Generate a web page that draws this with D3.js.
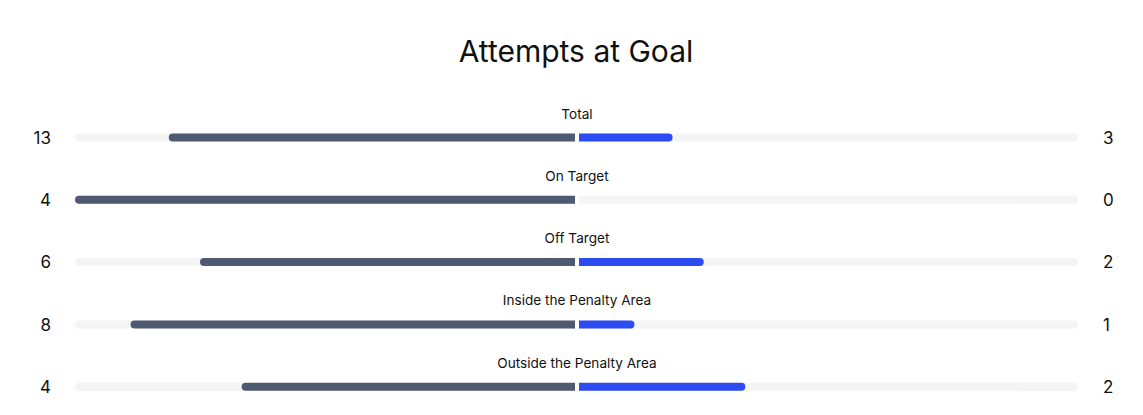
<!DOCTYPE html>
<html>
<head>
<meta charset="utf-8">
<script src="https://cdn.jsdelivr.net/npm/d3@7"></script>
<style>
  html, body { margin: 0; padding: 0; background: #fff; }
  svg { display: block; font-family: Inter, "Noto Sans", sans-serif; }
</style>
</head>
<body>
<svg id="chart"></svg>
<script>
// data
const categories = ["Total", "On Target", "Off Target", "Inside the Penalty Area", "Outside the Penalty Area"];
const homeValues = [13, 4, 6, 8, 4];
const awayValues = [3, 0, 2, 1, 2];

const width = 1143, height = 415;
const trackLeft = 75, trackRight = 1078, center = 577, gap = 2;
const barH = 8;
const firstRowY = 137.5, rowStep = 62.3;

const svg = d3.select("#chart").attr("width", width).attr("height", height);

svg.append("text")
  .attr("x", 576).attr("y", 62)
  .attr("text-anchor", "middle")
  .style("font-size", "30px")
  .style("fill", "#111")
  .text("Attempts at Goal");

const rows = categories.map((c, i) => ({
  label: c, home: homeValues[i], away: awayValues[i]
}));

const y = d3.scaleLinear().domain([0, 1]).range([firstRowY, firstRowY + rowStep]);
const leftScale = d3.scaleLinear().domain([0, 1]).range([0, center - gap - trackLeft]);
const rightScale = d3.scaleLinear().domain([0, 1]).range([0, trackRight - (center + gap)]);

// bar with one rounded end
function halfRounded(x0, x1, yc, roundLeft) {
  const r = barH / 2, top = yc - r, bot = yc + r;
  const w = Math.abs(x1 - x0);
  if (w <= 0) return "";
  const rr = Math.min(r, w);
  if (roundLeft) {
    return `M${x1},${top} L${x0 + rr},${top} A${rr},${r} 0 0 0 ${x0 + rr},${bot} L${x1},${bot} Z`;
  }
  return `M${x0},${top} L${x1 - rr},${top} A${rr},${r} 0 0 1 ${x1 - rr},${bot} L${x0},${bot} Z`;
}

const g = svg.selectAll(".row").data(rows).join("g").attr("class", "row")
  .attr("transform", (d, i) => `translate(0,${y(i)})`);

g.append("rect")
  .attr("x", trackLeft).attr("y", -barH / 2)
  .attr("width", trackRight - trackLeft).attr("height", barH)
  .attr("rx", barH / 2)
  .attr("fill", "#f4f4f5");

g.append("rect")
  .attr("x", center - gap).attr("y", -barH / 2 - 1)
  .attr("width", gap * 2).attr("height", barH + 2)
  .attr("fill", "#fff");

g.append("path")
  .attr("d", d => {
    const tot = d.home + d.away;
    const share = tot ? d.home / tot : 0;
    return halfRounded(center - gap - leftScale(share), center - gap, 0, true);
  })
  .attr("fill", "#4f5970");

g.append("path")
  .attr("d", d => {
    const tot = d.home + d.away;
    const share = tot ? d.away / tot : 0;
    return halfRounded(center + gap, center + gap + rightScale(share), 0, false);
  })
  .attr("fill", "#2c4cf2");

g.append("text")
  .attr("x", center).attr("y", -19)
  .attr("text-anchor", "middle")
  .style("font-size", "13.6px")
  .style("fill", "#111")
  .text(d => d.label);

g.append("text")
  .attr("x", 51).attr("y", 0).attr("dy", "0.36em")
  .attr("text-anchor", "end")
  .style("font-size", "17px")
  .style("fill", "#111")
  .text(d => d.home);

g.append("text")
  .attr("x", 1103).attr("y", 0).attr("dy", "0.36em")
  .attr("text-anchor", "start")
  .style("font-size", "17px")
  .style("fill", "#111")
  .text(d => d.away);
</script>
</body>
</html>
